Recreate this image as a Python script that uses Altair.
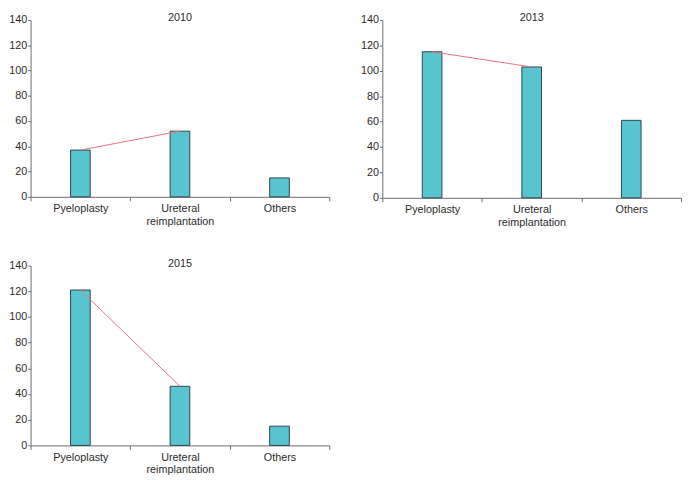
import altair as alt
import pandas as pd

categories = ["Pyeloplasty", "Ureteral reimplantation", "Others"]
years = ["2010", "2013", "2015"]
values_2010 = [37, 52, 15]
values_2013 = [115, 103, 61]
values_2015 = [121, 46, 15]
trend_categories = ["Pyeloplasty", "Ureteral reimplantation"]
y_ticks = [0, 20, 40, 60, 80, 100, 120, 140]

series = {"2010": values_2010, "2013": values_2013, "2015": values_2015}

FONT = "Liberation Sans"
AXIS_COLOR = "#6b6b6b"
TEXT_COLOR = "#2b2b2b"


def panel(year, w=304, h=180):
    df = pd.DataFrame({"category": categories, "count": series[year]})
    base = alt.Chart(df).encode(
        x=alt.X(
            "category:N",
            sort=categories,
            title=None,
            scale=alt.Scale(paddingInner=0, paddingOuter=0),
            axis=alt.Axis(
                labelAngle=0,
                labelExpr="isString(datum.value) ? split(datum.value, ' ') : ''",
                tickBand="extent",
                tickSize=4,
                labelPadding=2,
                labelLineHeight=13,
            ),
        ),
        y=alt.Y(
            "count:Q",
            title=None,
            scale=alt.Scale(domain=[0, 140], nice=False),
            axis=alt.Axis(values=y_ticks, tickSize=3, labelPadding=1, labelOverlap=False),
        ),
    )
    bars = base.mark_bar(size=20, color="#58c4cf", stroke="#2c4550", strokeWidth=1)
    line = base.mark_line(color="#e8707f", strokeWidth=1).transform_filter(
        alt.FieldOneOfPredicate(field="category", oneOf=trend_categories)
    )
    return alt.layer(bars, line).properties(
        width=w,
        height=h,
        title=alt.TitleParams(
            year, fontSize=11, fontWeight="normal", font=FONT, color=TEXT_COLOR,
            anchor="middle", offset=-9,
        ),
    )


top = alt.hconcat(panel("2010"), panel("2013", h=181), spacing=30)
chart = (
    alt.vconcat(top, panel("2015", h=183), spacing=31)
    .properties(padding=0)
    .configure_view(stroke=None)
    .configure_axis(
        grid=False,
        domainColor=AXIS_COLOR,
        tickColor=AXIS_COLOR,
        labelColor=TEXT_COLOR,
        labelFont=FONT,
        labelFontSize=11,
    )
)

chart.save("out.html", embed_options={"renderer": "svg", "actions": False})
